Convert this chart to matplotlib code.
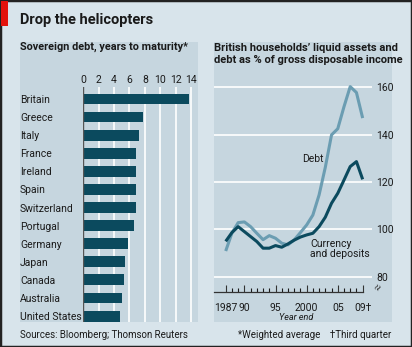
import matplotlib.pyplot as plt
from matplotlib.patches import Rectangle

# sovereign debt, average years to maturity
countries = ["Britain", "Greece", "Italy", "France", "Ireland", "Spain", "Switzerland",
             "Portugal", "Germany", "Japan", "Canada", "Australia", "United States"]
maturity = [13.8, 7.8, 7.3, 6.9, 6.85, 6.8, 6.8, 6.55, 5.8, 5.45, 5.25, 5.05, 4.8]

# British households, % of gross disposable income (2009 = third quarter)
years = list(range(1987, 2010))
debt = [90.8, 98.4, 102.8, 103.1, 101.1, 98.3, 95.6, 97.3, 96.2, 94.1, 93.4, 95.5,
        98.6, 101.8, 106.0, 114.5, 126.2, 139.9, 142.5, 151.8, 160.3, 157.8, 147.0]
deposits = [94.9, 98.6, 101.1, 99.0, 96.9, 94.8, 92.0, 92.0, 93.1, 92.4, 93.8, 95.4,
            96.7, 97.6, 98.3, 101.1, 105.1, 111.0, 115.2, 120.8, 126.5, 128.6, 121.1]
year_ticks = [1987, 1990, 1995, 2000, 2005, 2009]
year_labels = ["1987", "90", "95", "2000", "05", "09\u2020"]

W, H = 412, 347
FIG_BG = "#d8e4eb"
PANEL_BG = "#c6d6df"
DARK = "#0b4a5e"
LIGHT = "#6b9db2"
TEXT = "#1a1a1a"

plt.rcParams['font.family'] = ['Roboto', 'DejaVu Sans']
plt.rcParams['text.color'] = TEXT


def box(x0, y0, x1, y1):
    # pixel box (top-left origin) -> figure fraction rect
    return [x0 / W, 1 - y1 / H, (x1 - x0) / W, (y1 - y0) / H]


fig = plt.figure(figsize=(W / 100, H / 100), dpi=100)
fig.patch.set_facecolor(FIG_BG)

# frame, red tag and panel backgrounds
fig.add_artist(Rectangle((0, 0), 1, 1, transform=fig.transFigure, fill=False,
                         edgecolor="#222222", lw=2.5, zorder=0))
fig.add_artist(Rectangle((1 / W, 1 - 26 / H), 7 / W, 25 / H, transform=fig.transFigure,
                         facecolor="#e3120b", edgecolor="none"))
for x0, x1 in [(20, 197.7), (214, 391.7)]:
    b = box(x0, 42, x1, 321.7)
    fig.add_artist(Rectangle((b[0], b[1]), b[2], b[3], transform=fig.transFigure,
                             facecolor=PANEL_BG, edgecolor="none", zorder=0))

fig.text(20 / W, 1 - 20 / H, "Drop the helicopters", fontsize=10.5, fontweight="bold",
         va="center", ha="left")
fig.text(20 / W, 1 - 47 / H, "Sovereign debt, years to maturity*", fontsize=7.8,
         fontweight="bold", va="center", ha="left")
fig.text(214 / W, 1 - 54 / H, "British households\u2019 liquid assets and\n"
         "debt as % of gross disposable income", fontsize=8, fontweight="bold",
         va="center", ha="left", linespacing=1.25)

# left: bar chart
ax1 = fig.add_axes(box(83.3, 87, 197.7, 321.7))
ax1.set_facecolor("none")
pos = list(range(len(countries)))
ax1.barh(pos, maturity, height=0.6, color=DARK, zorder=3)
ax1.set_xlim(0, 14.87)
ax1.set_ylim(12.31, -0.66)
ax1.set_xticks(range(0, 15, 2))
ax1.xaxis.tick_top()
ax1.tick_params(axis="x", length=0, pad=1.5, labelsize=7.5, colors=TEXT)
ax1.set_yticks(pos)
ax1.set_yticklabels(countries)
ax1.tick_params(axis="y", length=0, pad=45.6, labelsize=7.5, colors=TEXT)
for lab in ax1.get_yticklabels():
    lab.set_horizontalalignment("left")
ax1.grid(axis="x", color="white", lw=1.2, zorder=1)
ax1.axvline(0, color="#555555", lw=1, zorder=4)
for s in ax1.spines.values():
    s.set_visible(False)

# right: line chart
ax2 = fig.add_axes(box(214, 80, 372, 291.7))
ax2.set_facecolor("none")
ax2.plot(years, debt, color=LIGHT, lw=2.2, zorder=3, solid_capstyle="butt")
ax2.plot(years, deposits, color=DARK, lw=2.2, zorder=4, solid_capstyle="butt")
ax2.set_xlim(1985.12, 2010.5)
ax2.set_ylim(73.6, 163.1)
ax2.set_yticks([80, 100, 120, 140, 160])
ax2.yaxis.tick_right()
ax2.tick_params(axis="y", length=0, pad=3, labelsize=7.5, colors=TEXT)
ax2.grid(axis="y", color="white", lw=1.2, zorder=1)
ax2.set_xticks(year_ticks)
ax2.set_xticklabels(year_labels)
ax2.set_xticks(years, minor=True)
ax2.tick_params(axis="x", which="major", direction="in", length=5, width=0.8,
                pad=8, labelsize=7.5, colors=TEXT)
ax2.tick_params(axis="x", which="minor", direction="in", length=3, width=0.8,
                colors=TEXT)
ax2.tick_params(axis="x", which="major", color="#333333")
for s in ax2.spines.values():
    s.set_visible(False)
ax2.plot([1985.12, 2009], [73.6, 73.6], color="#333333", lw=0.9, clip_on=False, zorder=5)
ax2.text(2011.6, 75.6, "\u2248", rotation=60, fontsize=8, ha="center", va="center",
         color="#333333")

ax2.text(1999.2, 129.6, "Debt", fontsize=7.5, ha="left", va="center")
ax2.text(2000.6, 91.5, "Currency\nand deposits", fontsize=7.5, ha="left", va="center",
         linespacing=1.0)
fig.text(296 / W, 1 - 317.5 / H, "Year end", fontsize=6.5, style="italic",
         ha="center", va="center")

fig.text(20 / W, 1 - 335 / H, "Sources: Bloomberg; Thomson Reuters", fontsize=7,
         ha="left", va="center")
fig.text(391.7 / W, 1 - 335 / H,
         "*Weighted average    \u2020Third quarter", fontsize=7, ha="right", va="center")

fig.savefig("out.png", dpi=100, facecolor=FIG_BG)
